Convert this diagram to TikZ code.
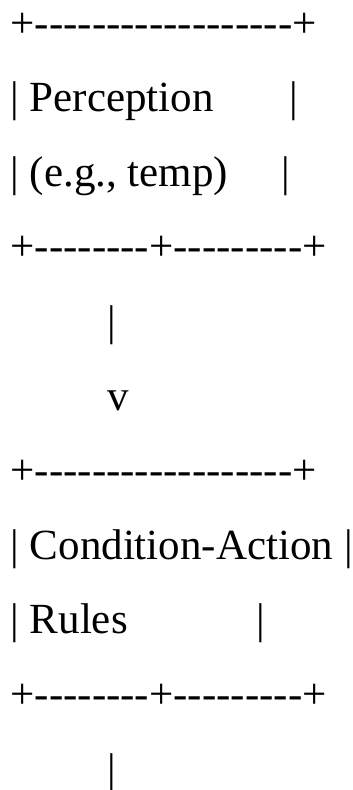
\documentclass[tikz,border=0pt]{standalone}
\usepackage{fontspec}
\usepackage{tikz}
\newfontfamily\asciifont{Liberation Serif}

\begin{document}
\begin{tikzpicture}[
  x=0.75pt, y=-0.75pt,
  asciiline/.style={anchor=base west, inner sep=0pt, outer sep=0pt, font=\asciifont\fontsize{32.25}{32.25}\selectfont}
]
\useasboundingbox (0,0) rectangle (353,790);

% perception box
\node[asciiline] (top1) at (10.5,37) {+------------------+};
\node[asciiline] (perc1) at (10.5,111.6) {| Perception\ \ \ \ \ \ \ |};
\node[asciiline] (perc2) at (10.5,186.2) {| (e.g.,\ temp)\ \ \ \ \ |};
\node[asciiline] (bot1) at (10.5,260.8) {+--------+---------+};

% arrow down
\node[asciiline] (stem1) at (10.5,335.4) {\ \ \ \ \ \ \ \ \ |};
\node[asciiline] (tip1) at (10.5,410) {\ \ \ \ \ \ \ \ \ v};

% rules box
\node[asciiline] (top2) at (10.5,484.6) {+------------------+};
\node[asciiline] (rule1) at (10.5,559.2) {| Condition-Action |};
\node[asciiline] (rule2) at (10.5,633.8) {| Rules\ \ \ \ \ \ \ \ \ \ \ \ |};
\node[asciiline] (bot2) at (10.5,708.4) {+--------+---------+};
\node[asciiline] (stem2) at (10.5,783) {\ \ \ \ \ \ \ \ \ |};

\end{tikzpicture}
\end{document}
